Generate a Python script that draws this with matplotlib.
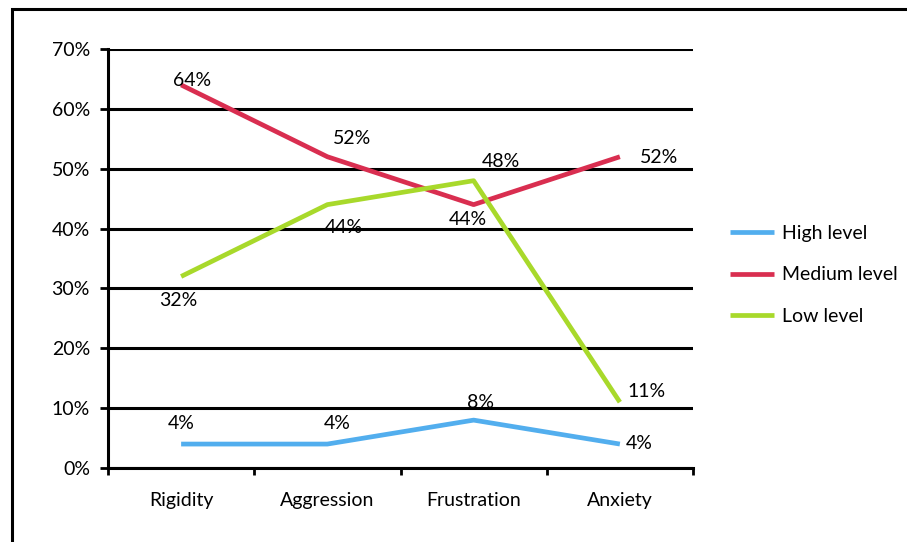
import matplotlib.pyplot as plt
from matplotlib.patches import Rectangle
from matplotlib.ticker import PercentFormatter

categories = ["Rigidity", "Aggression", "Frustration", "Anxiety"]
high = [4, 4, 8, 4]
medium = [64, 52, 44, 52]
low = [32, 44, 48, 11]

# label offsets (pixels) for each data label
high_off = [(0, 21), (10, 21), (7, 18), (19, 1)]
medium_off = [(11, 4), (25, 18), (-6, -15), (39, -1)]
low_off = [(-3, -24), (16, -23), (27, 19), (27, 11)]

plt.rcParams["font.family"] = ["Lato", "DejaVu Sans"]

fig = plt.figure(figsize=(9.07, 5.42), dpi=100)
ax = fig.add_axes([108 / 907, 1 - 468 / 542, (693 - 108) / 907, (468 - 49) / 542])

# outer chart frame
fig.patches.append(Rectangle((12 / 907, -0.05), 1.0, 1 - 9 / 542 + 0.05,
                             transform=fig.transFigure, fill=False,
                             edgecolor="black", linewidth=2.2))

x = list(range(len(categories)))
series = [
    ("High level", high, "#52AEEE", high_off),
    ("Medium level", medium, "#D92E50", medium_off),
    ("Low level", low, "#A8D92B", low_off),
]
for name, vals, col, offs in series:
    ax.plot(x, vals, color=col, linewidth=3.4, label=name, solid_capstyle="butt")
    for xi, v, (dx, dy) in zip(x, vals, offs):
        ax.annotate(f"{v}%", (xi, v), xytext=(dx, dy), textcoords="offset pixels",
                    ha="center", va="center", fontsize=14)

ax.set_xlim(-0.5, 3.5)
ax.set_ylim(0, 70)
ax.set_yticks(range(0, 71, 10))
ax.yaxis.set_major_formatter(PercentFormatter(decimals=0))
ax.set_xticks(x)
ax.set_xticklabels(categories)
ax.set_xticks([-0.5, 0.5, 1.5, 2.5, 3.5], minor=True)
ax.tick_params(axis="x", which="major", length=0, pad=17, labelsize=14)
ax.tick_params(axis="x", which="minor", length=5, width=2, direction="out")
ax.tick_params(axis="y", length=6, width=2, labelsize=14, pad=7)
ax.grid(axis="y", color="black", linewidth=2.2)
ax.set_axisbelow(True)
for side in ["top", "right"]:
    ax.spines[side].set_visible(False)
for side in ["left", "bottom"]:
    ax.spines[side].set_linewidth(2.2)

fig.legend(loc="center left", bbox_to_anchor=(712 / 907, 1 - 275 / 542),
           frameon=False, fontsize=14, handlelength=2.3, handletextpad=0.4,
           labelspacing=1.25)

fig.savefig("out.png", dpi=100)
